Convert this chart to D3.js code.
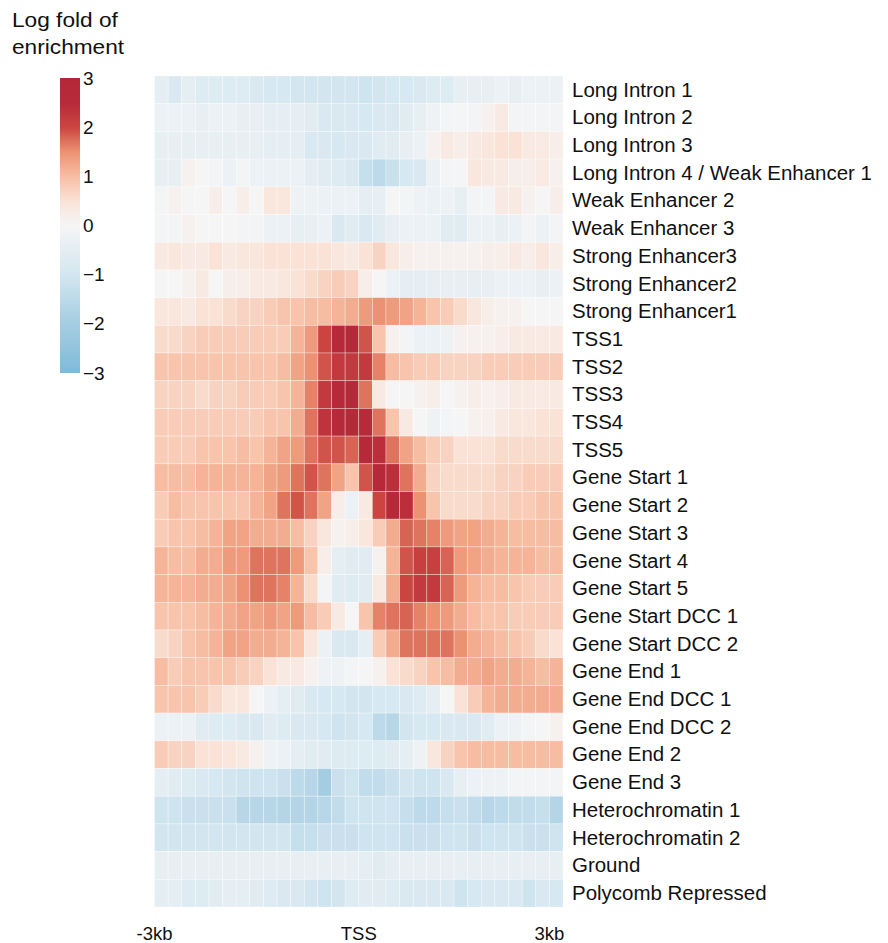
<!DOCTYPE html>
<html>
<head>
<meta charset="utf-8">
<script src="https://cdn.jsdelivr.net/npm/d3@7"></script>
<style>
  html, body { margin: 0; padding: 0; background: #fff; }
  svg { display: block; }
  text { font-family: "Liberation Sans", Arial, Helvetica, sans-serif; fill: #111; }
</style>
</head>
<body>
<svg id="chart" width="888" height="943"></svg>
<script>
// ---------- data ----------
const rowLabels = [
  "Long Intron 1", "Long Intron 2", "Long Intron 3", "Long Intron 4 / Weak Enhancer 1",
  "Weak Enhancer 2", "Weak Enhancer 3", "Strong Enhancer3", "Strong Enhancer2", "Strong Enhancer1",
  "TSS1", "TSS2", "TSS3", "TSS4", "TSS5",
  "Gene Start 1", "Gene Start 2", "Gene Start 3", "Gene Start 4", "Gene Start 5",
  "Gene Start DCC 1", "Gene Start DCC 2", "Gene End 1", "Gene End DCC 1", "Gene End DCC 2",
  "Gene End 2", "Gene End 3", "Heterochromatin 1", "Heterochromatin 2", "Ground", "Polycomb Repressed"
];

const xTickLabels = ["-3kb", "TSS", "3kb"];
const xTickBins = [0, 15, 29];

const legendTicks = [3, 2, 1, 0, -1, -2, -3];
const legendTitle = ["Log fold of", "enrichment"];

// log fold enrichment, 30 bins from -3kb to +3kb, one array per state
const longIntron1 = [-0.5,-0.8,-0.5,-0.7,-0.7,-0.7,-0.7,-0.8,-0.9,-0.9,-1.0,-1.0,-1.0,-1.0,-1.0,-1.1,-1.0,-0.9,-0.9,-0.8,-0.7,-0.7,-0.4,-0.4,-0.4,-0.3,-0.4,-0.3,-0.3,-0.3];
const longIntron2 = [-0.3,-0.3,-0.3,-0.4,-0.3,-0.3,-0.4,-0.4,-0.5,-0.5,-0.5,-0.6,-0.8,-0.8,-0.8,-0.9,-0.8,-0.8,-0.6,-0.4,-0.2,-0.1,0.0,-0.1,0.1,0.3,-0.1,-0.1,-0.1,-0.1];
const longIntron3 = [-0.4,-0.4,-0.4,-0.4,-0.4,-0.4,-0.4,-0.4,-0.5,-0.5,-0.5,-0.8,-0.8,-0.9,-0.8,-0.8,-0.6,-0.6,-0.4,-0.3,0.1,0.3,0.2,0.3,0.4,0.5,0.5,0.3,0.3,0.2];
const longIntron4 = [-0.4,-0.4,0.1,0.0,-0.1,-0.3,-0.1,-0.3,-0.3,-0.3,-0.3,-0.5,-0.6,-0.7,-0.8,-1.3,-1.5,-1.2,-0.9,-0.8,-0.3,-0.1,0.0,0.4,0.3,0.3,0.2,0.2,0.3,0.1];
const weakEnhancer2 = [-0.1,0.1,0.0,0.0,0.2,0.0,0.2,0.0,0.4,0.4,-0.2,-0.2,-0.3,-0.3,-0.3,-0.5,-0.4,0.0,-0.1,-0.2,-0.3,-0.2,-0.4,-0.1,-0.1,0.3,0.3,0.1,0.0,0.2];
const weakEnhancer3 = [-0.1,-0.1,0.1,0.0,0.0,0.0,-0.1,-0.1,-0.3,-0.3,-0.4,-0.4,-0.3,-0.8,-0.6,-0.8,-0.6,-0.4,-0.3,-0.3,-0.3,-0.6,-0.6,-0.3,-0.3,-0.4,-0.3,-0.1,-0.3,-0.1];
const strongEnhancer3 = [0.3,0.4,0.3,0.3,0.5,0.3,0.4,0.4,0.5,0.5,0.5,0.5,0.5,0.4,0.3,0.5,0.7,0.4,0.2,0.1,0.1,0.1,0.1,0.1,0.2,0.2,0.3,0.2,0.4,0.2];
const strongEnhancer2 = [0.0,0.0,0.1,0.3,0.0,0.2,0.2,0.3,0.3,0.4,0.5,0.6,0.7,0.8,0.7,0.2,0.0,-0.3,-0.5,-0.5,-0.4,-0.4,-0.4,-0.4,-0.4,-0.3,-0.3,-0.3,-0.4,-0.3];
const strongEnhancer1 = [0.4,0.4,0.3,0.5,0.5,0.6,0.7,0.7,0.8,0.9,0.9,1.0,1.0,1.1,1.2,1.4,1.5,1.4,1.3,1.1,0.9,0.8,0.6,0.4,0.2,0.1,0.1,0.0,0.0,0.0];
const tss1 = [0.6,0.6,0.7,0.8,0.8,0.8,0.8,0.8,0.8,0.8,1.1,1.4,2.0,2.7,2.7,1.9,0.9,0.1,-0.1,-0.3,-0.3,-0.2,0.1,0.1,0.1,0.2,0.3,0.3,0.3,0.3];
const tss2 = [0.9,0.9,0.9,0.9,0.9,0.9,0.9,0.9,0.9,1.0,1.3,1.5,1.9,2.2,2.2,2.2,1.6,1.0,0.9,0.8,0.8,0.7,0.7,0.7,0.8,0.8,0.8,0.8,0.8,0.8];
const tss3 = [0.7,0.7,0.7,0.6,0.7,0.7,0.8,0.8,0.8,0.9,1.1,1.6,2.2,2.7,2.7,1.7,0.3,0.0,0.0,0.1,0.2,0.0,0.1,0.2,0.1,0.2,0.3,0.3,0.3,0.3];
const tss4 = [0.8,0.8,0.8,0.8,0.8,0.8,0.8,0.8,0.9,0.9,1.2,1.7,2.3,2.7,2.7,2.6,1.7,0.9,0.3,0.0,-0.2,-0.1,0.0,0.1,0.1,0.3,0.4,0.4,0.5,0.5];
const tss5 = [0.8,0.8,0.8,0.9,0.9,0.9,1.0,0.9,1.1,1.3,1.4,1.7,1.9,1.9,1.8,2.7,2.4,1.7,1.3,1.0,0.8,0.7,0.5,0.5,0.5,0.6,0.6,0.6,0.6,0.6];
const geneStart1 = [1.0,1.0,1.0,1.1,1.1,1.1,1.1,1.1,1.3,1.4,1.7,1.9,1.7,1.3,0.9,1.9,2.7,2.4,1.7,1.2,0.7,0.6,0.6,0.6,0.6,0.7,0.7,0.8,0.8,0.8];
const geneStart2 = [0.8,1.0,0.9,0.9,0.9,0.9,0.9,1.1,1.3,1.7,1.9,1.7,1.3,0.2,-0.3,0.3,2.0,2.7,2.4,1.5,0.9,0.6,0.6,0.6,0.7,0.7,0.8,0.8,0.9,0.9];
const geneStart3 = [0.8,0.9,0.9,1.0,1.1,1.3,1.3,1.2,1.2,1.2,1.0,0.7,0.4,0.1,0.2,0.4,0.8,1.2,1.8,1.7,1.6,1.4,1.3,1.3,1.2,1.1,1.0,1.0,1.0,1.0];
const geneStart4 = [1.1,1.0,1.0,1.2,1.2,1.4,1.4,1.7,1.7,1.7,1.4,0.9,0.2,-0.5,-0.6,-0.6,0.1,1.1,1.9,2.1,2.1,1.8,1.4,1.3,1.2,1.1,1.1,1.1,1.0,1.0];
const geneStart5 = [1.1,1.1,1.1,1.2,1.2,1.3,1.5,1.7,1.7,1.6,1.1,0.6,-0.1,-0.6,-0.7,-0.6,0.3,1.2,2.0,2.2,2.2,1.8,1.4,1.1,1.0,1.0,0.9,0.8,0.8,0.8];
const geneStartDcc1 = [0.9,0.9,0.9,1.0,1.1,1.2,1.3,1.3,1.4,1.3,1.4,1.0,0.8,0.3,0.0,0.9,1.6,1.7,1.8,1.6,1.5,1.4,1.2,1.0,0.9,0.9,0.8,0.8,0.8,0.8];
const geneStartDcc2 = [0.6,0.7,0.9,1.0,1.1,1.3,1.3,1.2,1.2,1.1,0.9,0.4,-0.3,-0.8,-0.8,-0.5,0.8,1.2,1.7,1.7,1.7,1.7,1.5,1.2,1.1,1.0,0.9,0.8,0.6,0.5];
const geneEnd1 = [1.0,0.8,0.9,0.9,0.9,0.9,0.8,0.7,0.5,0.3,0.3,0.1,-0.2,-0.2,-0.1,0.0,0.1,0.5,0.6,0.7,0.9,1.0,1.2,1.2,1.3,1.2,1.2,1.1,1.0,1.1];
const geneEndDcc1 = [0.9,0.9,0.9,0.8,0.6,0.4,0.4,0.0,-0.3,-0.5,-0.6,-0.8,-0.9,-0.9,-1.0,-1.0,-0.9,-0.9,-0.8,-0.7,-0.5,0.0,0.5,0.8,1.1,1.2,1.2,1.2,1.2,1.2];
const geneEndDcc2 = [-0.3,-0.3,-0.3,-0.6,-0.7,-0.7,-0.8,-0.8,-0.6,-0.7,-0.8,-0.8,-0.9,-1.1,-1.0,-0.9,-1.5,-1.6,-1.0,-0.9,-0.9,-0.8,-0.8,-0.8,-0.6,-0.3,-0.2,-0.1,0.0,0.1];
const geneEnd2 = [0.8,0.7,0.7,0.5,0.5,0.4,0.3,0.1,-0.2,-0.3,-0.5,-0.6,-0.6,-0.7,-0.7,-0.7,-0.7,-0.6,-0.5,-0.2,0.4,0.7,0.9,1.0,1.0,1.0,1.0,1.0,1.0,1.0];
const geneEnd3 = [-0.5,-0.6,-0.7,-0.8,-0.9,-1.0,-1.1,-1.1,-1.1,-1.2,-1.5,-1.6,-2.0,-1.2,-1.1,-1.4,-1.4,-1.2,-1.0,-1.1,-1.1,-0.8,-0.4,-0.3,-0.2,-0.2,-0.1,-0.1,-0.1,-0.1];
const heterochromatin1 = [-1.1,-1.1,-1.2,-1.2,-1.2,-1.2,-1.6,-1.6,-1.6,-1.7,-1.7,-1.7,-1.6,-1.4,-1.1,-1.1,-1.1,-1.1,-1.3,-1.5,-1.5,-1.3,-1.2,-1.4,-1.6,-1.5,-1.4,-1.4,-1.3,-1.7];
const heterochromatin2 = [-1.0,-1.0,-1.0,-1.0,-1.0,-1.0,-1.0,-1.0,-1.0,-1.0,-1.3,-1.3,-1.2,-1.2,-1.2,-1.1,-1.1,-1.1,-1.2,-1.2,-1.2,-1.1,-1.1,-1.2,-1.1,-1.1,-1.1,-1.2,-1.2,-1.1];
const ground = [-0.4,-0.4,-0.4,-0.4,-0.4,-0.4,-0.4,-0.4,-0.4,-0.4,-0.4,-0.4,-0.4,-0.4,-0.4,-0.5,-0.6,-0.5,-0.4,-0.4,-0.4,-0.4,-0.4,-0.4,-0.4,-0.4,-0.4,-0.4,-0.4,-0.4];
const polycombRepressed = [-0.5,-0.5,-0.7,-0.7,-0.6,-0.5,-0.5,-0.6,-0.7,-0.8,-0.8,-1.0,-1.1,-1.0,-0.7,-0.6,-0.6,-0.7,-0.8,-0.8,-0.8,-0.8,-1.1,-0.9,-0.8,-0.8,-0.8,-1.1,-0.8,-0.9];

const rowValues = [
  longIntron1, longIntron2, longIntron3, longIntron4, weakEnhancer2, weakEnhancer3,
  strongEnhancer3, strongEnhancer2, strongEnhancer1, tss1, tss2, tss3, tss4, tss5,
  geneStart1, geneStart2, geneStart3, geneStart4, geneStart5, geneStartDcc1, geneStartDcc2,
  geneEnd1, geneEndDcc1, geneEndDcc2, geneEnd2, geneEnd3, heterochromatin1, heterochromatin2,
  ground, polycombRepressed
];

// colour stops
const colorDomain = [-3, -2, -1, 0, 0.5, 1, 1.5, 2, 2.5, 3];
const colorRange = ["#7fbad8", "#a5cde2", "#d3e6f0", "#f5f5f5", "#fae2d6", "#f7bda2", "#eb9272", "#cb4440", "#b72a3a", "#b32838"];

// ---------- drawing ----------
const svg = d3.select("#chart");
const nCols = rowValues[0].length;

const x = d3.scaleBand().domain(d3.range(nCols)).range([154.5, 563]).padding(0);
const y = d3.scaleBand().domain(rowLabels).range([76, 907]).padding(0);
const color = d3.scaleLinear().domain(colorDomain).range(colorRange).clamp(true);

const cells = [];
rowValues.forEach((vals, r) => vals.forEach((v, c) => cells.push({ row: rowLabels[r], col: c, v })));

svg.append("g")
  .selectAll("rect")
  .data(cells)
  .join("rect")
  .attr("x", d => x(d.col))
  .attr("y", d => y(d.row))
  .attr("width", x.bandwidth())
  .attr("height", y.bandwidth())
  .attr("fill", d => color(d.v))
  .attr("stroke", "#ffffff")
  .attr("stroke-width", 0.7)
  .attr("stroke-opacity", 0.45);

// row labels (right side)
const labelScaleX = 1.05;
svg.append("g")
  .selectAll("text")
  .data(rowLabels)
  .join("text")
  .attr("transform", d => `translate(572,${y(d) + y.bandwidth() / 2}) scale(${labelScaleX},1)`)
  .attr("dy", "0.35em")
  .style("font-size", "19.5px")
  .text(d => d);

// x tick labels
svg.append("g")
  .selectAll("text")
  .data(xTickLabels)
  .join("text")
  .attr("x", (d, i) => x(xTickBins[i]))
  .attr("y", 940)
  .attr("text-anchor", "middle")
  .style("font-size", "18.5px")
  .text(d => d);

// colour bar legend
const lg = svg.append("g");
const cb = d3.scaleLinear().domain([3, -3]).range([78, 373]);
const defs = svg.append("defs");
const grad = defs.append("linearGradient")
  .attr("id", "cbgrad").attr("x1", 0).attr("y1", 0).attr("x2", 0).attr("y2", 1);
d3.range(0, 61).forEach(i => {
  const v = 3 - i * 0.1;
  grad.append("stop").attr("offset", (i / 60)).attr("stop-color", color(v));
});
lg.append("rect")
  .attr("x", 60).attr("y", cb(3))
  .attr("width", 20).attr("height", cb(-3) - cb(3))
  .attr("fill", "url(#cbgrad)");

lg.selectAll("text.tick")
  .data(legendTicks)
  .join("text")
  .attr("class", "tick")
  .attr("x", 83)
  .attr("y", d => cb(d))
  .attr("dy", "0.35em")
  .style("font-size", "19px")
  .text(d => d < 0 ? "\u2212" + Math.abs(d) : String(d));

lg.selectAll("text.title")
  .data(legendTitle)
  .join("text")
  .attr("class", "title")
  .attr("transform", (d, i) => `translate(12,${27 + i * 27}) scale(1.08,1)`)
  .style("font-size", "21px")
  .text(d => d);
</script>
</body>
</html>
